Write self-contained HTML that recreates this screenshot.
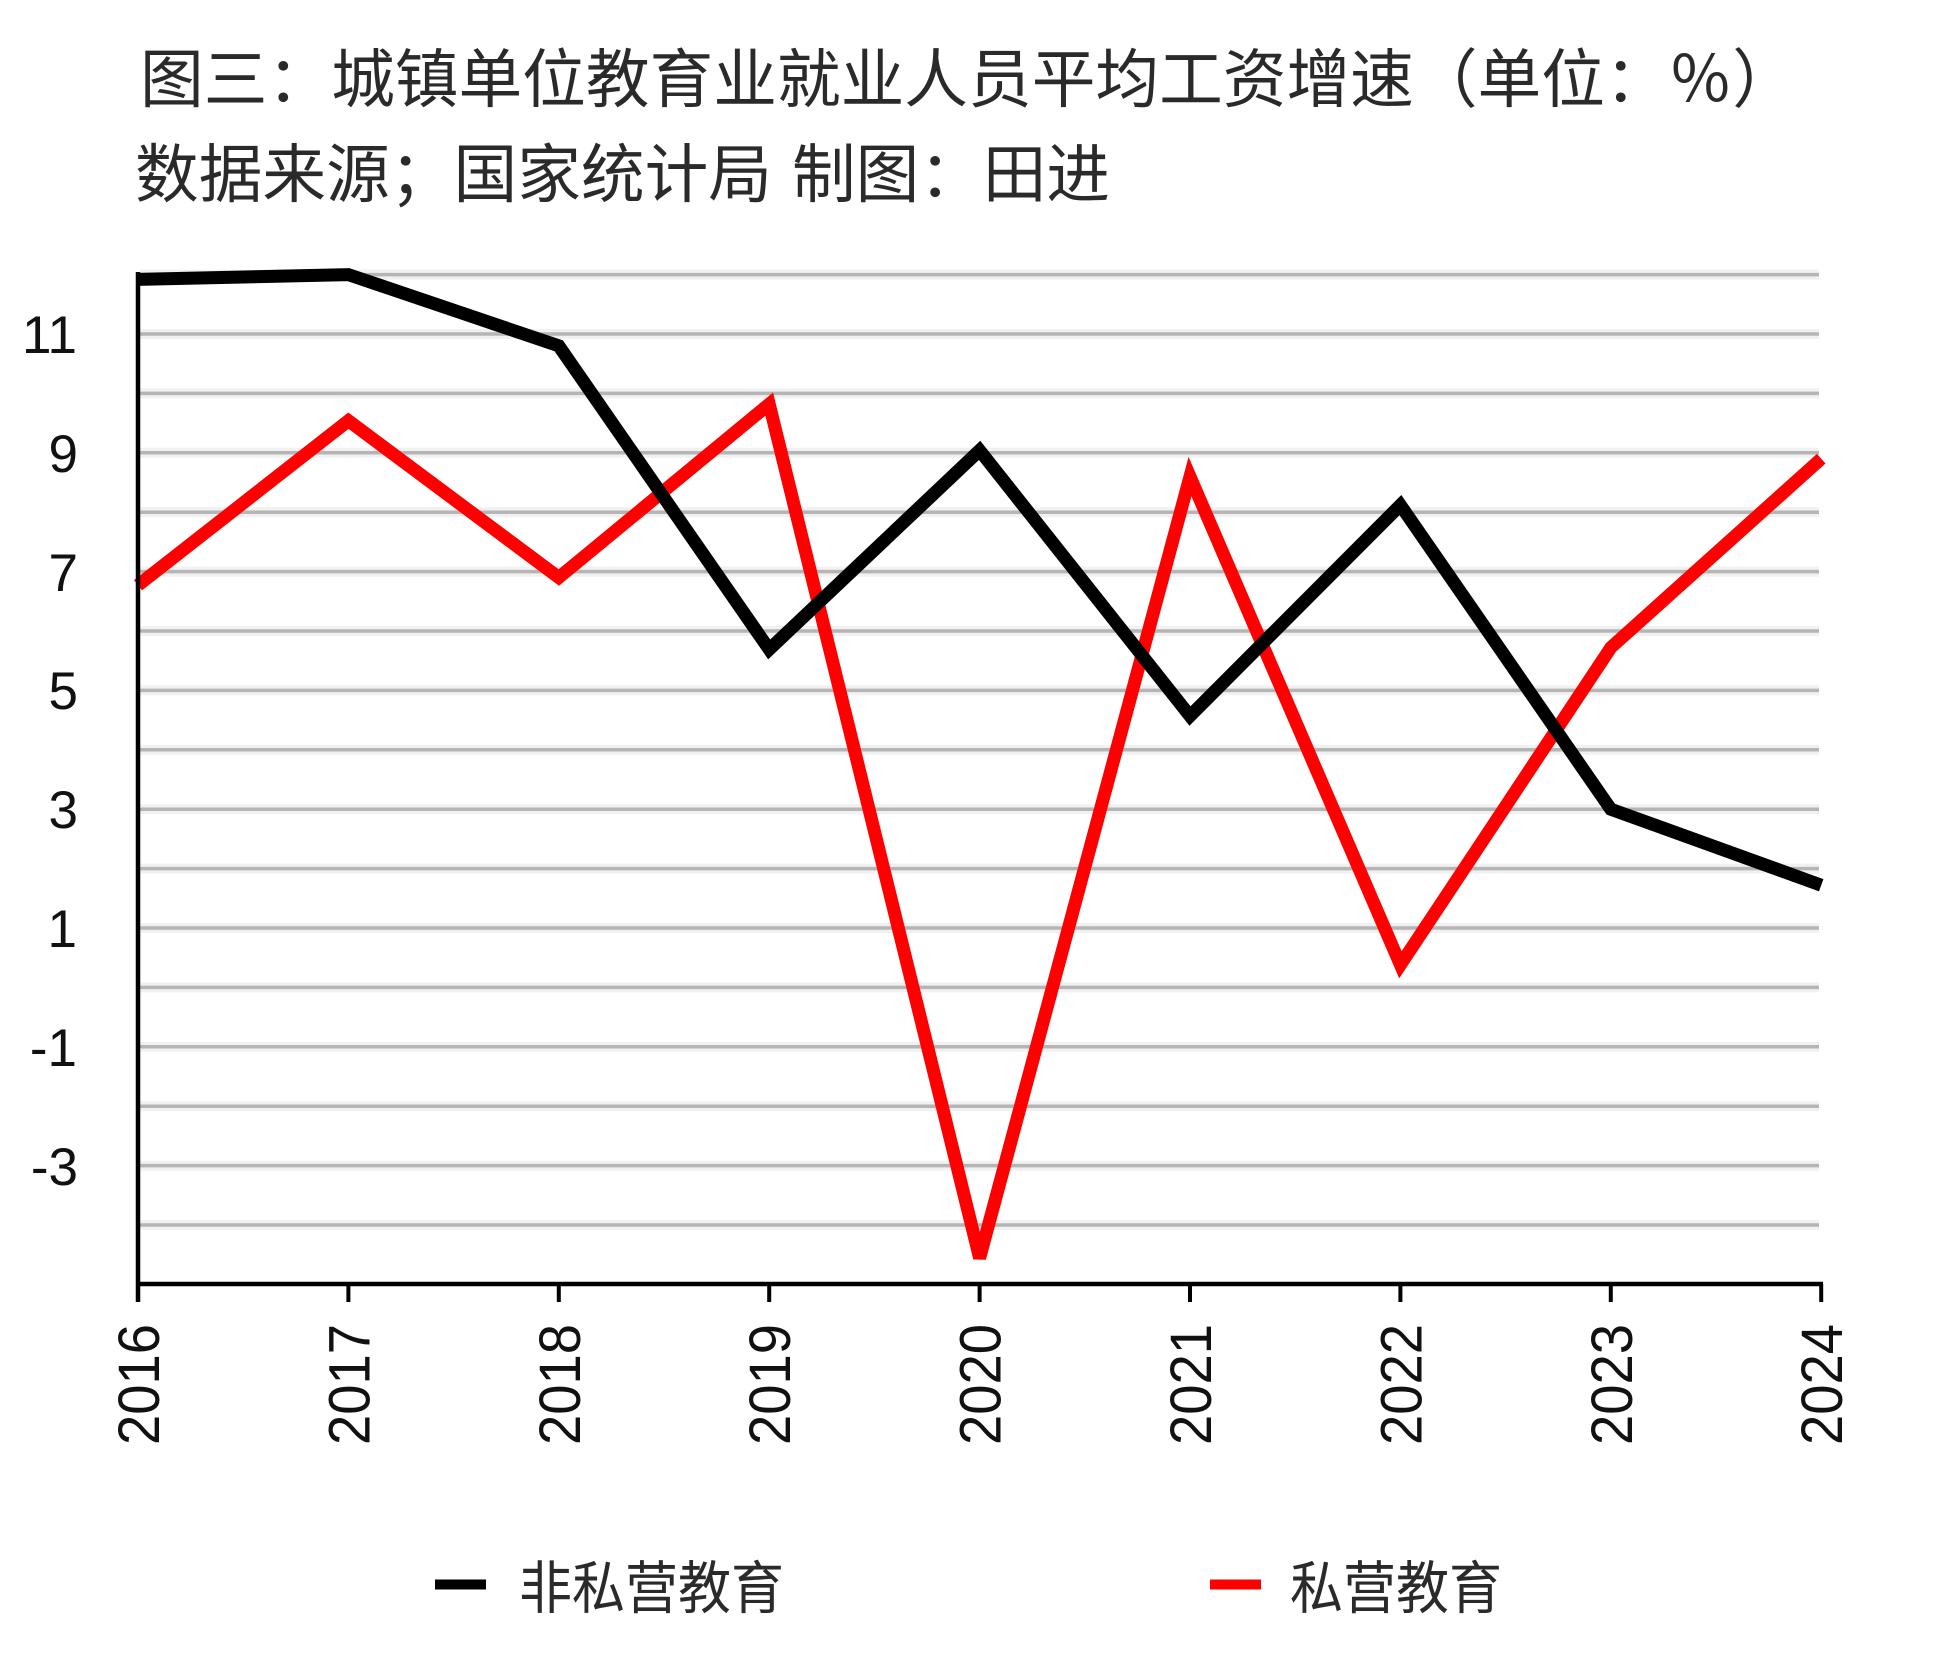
<!DOCTYPE html>
<html>
<head>
<meta charset="utf-8">
<style>
html,body{margin:0;padding:0;background:#fff;}
svg{display:block;}
text{font-family:"Liberation Sans","Noto Sans CJK SC",sans-serif;}
</style>
</head>
<body>
<svg width="1934" height="1661" viewBox="0 0 1934 1661" xmlns="http://www.w3.org/2000/svg">
<rect x="0" y="0" width="1934" height="1661" fill="#ffffff"/>

<!-- Title -->
<text x="140" y="102" font-size="64" fill="#2a2a2a" textLength="1656" lengthAdjust="spacingAndGlyphs">图三：城镇单位教育业就业人员平均工资增速（单位：％）</text>
<text x="135" y="197" font-size="64" fill="#2a2a2a" textLength="637" lengthAdjust="spacingAndGlyphs">数据来源；国家统计局</text>
<text x="792" y="197" font-size="64" fill="#2a2a2a" textLength="318" lengthAdjust="spacingAndGlyphs">制图：田进</text>

<!-- Gridlines -->
<g fill="none">
<g stroke="#f1f1f1" stroke-width="10">
<line x1="140" y1="274.6" x2="1819" y2="274.6"/>
<line x1="140" y1="334.0" x2="1819" y2="334.0"/>
<line x1="140" y1="393.4" x2="1819" y2="393.4"/>
<line x1="140" y1="452.8" x2="1819" y2="452.8"/>
<line x1="140" y1="512.2" x2="1819" y2="512.2"/>
<line x1="140" y1="571.6" x2="1819" y2="571.6"/>
<line x1="140" y1="631.0" x2="1819" y2="631.0"/>
<line x1="140" y1="690.4" x2="1819" y2="690.4"/>
<line x1="140" y1="749.8" x2="1819" y2="749.8"/>
<line x1="140" y1="809.2" x2="1819" y2="809.2"/>
<line x1="140" y1="868.6" x2="1819" y2="868.6"/>
<line x1="140" y1="928.0" x2="1819" y2="928.0"/>
<line x1="140" y1="987.4" x2="1819" y2="987.4"/>
<line x1="140" y1="1046.8" x2="1819" y2="1046.8"/>
<line x1="140" y1="1106.2" x2="1819" y2="1106.2"/>
<line x1="140" y1="1165.6" x2="1819" y2="1165.6"/>
<line x1="140" y1="1225.0" x2="1819" y2="1225.0"/>
</g>
<g stroke="#b5b5b5" stroke-width="3.5">
<line x1="140" y1="274.6" x2="1819" y2="274.6"/>
<line x1="140" y1="334.0" x2="1819" y2="334.0"/>
<line x1="140" y1="393.4" x2="1819" y2="393.4"/>
<line x1="140" y1="452.8" x2="1819" y2="452.8"/>
<line x1="140" y1="512.2" x2="1819" y2="512.2"/>
<line x1="140" y1="571.6" x2="1819" y2="571.6"/>
<line x1="140" y1="631.0" x2="1819" y2="631.0"/>
<line x1="140" y1="690.4" x2="1819" y2="690.4"/>
<line x1="140" y1="749.8" x2="1819" y2="749.8"/>
<line x1="140" y1="809.2" x2="1819" y2="809.2"/>
<line x1="140" y1="868.6" x2="1819" y2="868.6"/>
<line x1="140" y1="928.0" x2="1819" y2="928.0"/>
<line x1="140" y1="987.4" x2="1819" y2="987.4"/>
<line x1="140" y1="1046.8" x2="1819" y2="1046.8"/>
<line x1="140" y1="1106.2" x2="1819" y2="1106.2"/>
<line x1="140" y1="1165.6" x2="1819" y2="1165.6"/>
<line x1="140" y1="1225.0" x2="1819" y2="1225.0"/>
</g>
</g>

<!-- Series -->
<polyline fill="none" stroke="#ff0000" stroke-width="13" stroke-linejoin="miter" stroke-miterlimit="3.5" stroke-linecap="butt"
 points="138,585.3 348.4,420.7 558.8,577.5 769.2,404.1 979.6,1258 1190,476.6 1400.4,964.8 1610.8,647.6 1821.2,458.7"/>
<polyline fill="none" stroke="#000000" stroke-width="13" stroke-linejoin="miter" stroke-miterlimit="3.5" stroke-linecap="butt"
 points="138,279.4 348.4,274.6 558.8,345.9 769.2,649.4 979.6,450.4 1190,716 1400.4,505.1 1610.8,809.2 1821.2,885.2"/>

<!-- Axes -->
<g stroke="#000" fill="none">
<line x1="138" y1="272" x2="138" y2="1302" stroke-width="4.5"/>
<line x1="136" y1="1284" x2="1823" y2="1284" stroke-width="4.5"/>
<g stroke-width="4">
<line x1="348.4" y1="1284" x2="348.4" y2="1302"/>
<line x1="558.8" y1="1284" x2="558.8" y2="1302"/>
<line x1="769.2" y1="1284" x2="769.2" y2="1302"/>
<line x1="979.6" y1="1284" x2="979.6" y2="1302"/>
<line x1="1190" y1="1284" x2="1190" y2="1302"/>
<line x1="1400.4" y1="1284" x2="1400.4" y2="1302"/>
<line x1="1610.8" y1="1284" x2="1610.8" y2="1302"/>
<line x1="1821.2" y1="1284" x2="1821.2" y2="1302"/>
</g>
</g>

<!-- Y labels -->
<g font-size="53" fill="#111" text-anchor="end">
<text x="77" y="353">11</text>
<text x="78" y="472">9</text>
<text x="78" y="591">7</text>
<text x="78" y="709">5</text>
<text x="78" y="828">3</text>
<text x="77" y="947">1</text>
<text x="77" y="1066">-1</text>
<text x="78" y="1185">-3</text>
</g>

<!-- X labels (rotated) -->
<g font-size="58" fill="#111">
<text transform="translate(159,1445) rotate(-90)" textLength="121" lengthAdjust="spacingAndGlyphs">2016</text>
<text transform="translate(369.4,1445) rotate(-90)" textLength="121" lengthAdjust="spacingAndGlyphs">2017</text>
<text transform="translate(579.8,1445) rotate(-90)" textLength="121" lengthAdjust="spacingAndGlyphs">2018</text>
<text transform="translate(790.2,1445) rotate(-90)" textLength="121" lengthAdjust="spacingAndGlyphs">2019</text>
<text transform="translate(1000.6,1445) rotate(-90)" textLength="121" lengthAdjust="spacingAndGlyphs">2020</text>
<text transform="translate(1211,1445) rotate(-90)" textLength="121" lengthAdjust="spacingAndGlyphs">2021</text>
<text transform="translate(1421.4,1445) rotate(-90)" textLength="121" lengthAdjust="spacingAndGlyphs">2022</text>
<text transform="translate(1631.8,1445) rotate(-90)" textLength="121" lengthAdjust="spacingAndGlyphs">2023</text>
<text transform="translate(1842.2,1445) rotate(-90)" textLength="121" lengthAdjust="spacingAndGlyphs">2024</text>
</g>

<!-- Legend -->
<rect x="435" y="1579.5" width="51" height="10" fill="#000"/>
<text x="519" y="1608" font-size="57" fill="#2a2a2a" textLength="265" lengthAdjust="spacingAndGlyphs">非私营教育</text>
<rect x="1210" y="1579.5" width="51" height="10" fill="#ff0000"/>
<text x="1290" y="1608" font-size="57" fill="#2a2a2a" textLength="212" lengthAdjust="spacingAndGlyphs">私营教育</text>
</svg>
</body>
</html>
